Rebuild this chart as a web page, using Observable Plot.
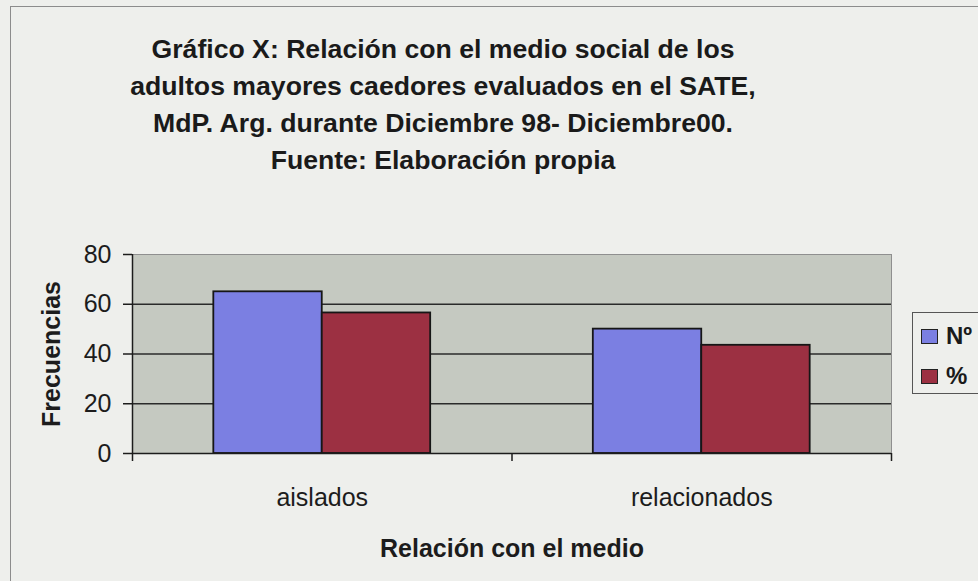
<!DOCTYPE html>
<html>
<head>
<meta charset="utf-8">
<script src="https://cdn.jsdelivr.net/npm/d3@7"></script>
<script src="https://cdn.jsdelivr.net/npm/@observablehq/plot@0.6"></script>
<style>
  html, body { margin: 0; padding: 0; background: #eeefec; }
  #wrap { position: relative; width: 978px; height: 581px; overflow: hidden; background: #eeefec;
          font-family: "Liberation Sans", Arial, sans-serif; color: #1a1a1a; }
  #border { position: absolute; left: 10px; top: 6px; width: 1000px; height: 600px; border: 1px solid #8c8c8c; }
  #title { position: absolute; left: 0; top: 31px; width: 886px; text-align: center; font-weight: bold;
           font-size: 25px; line-height: 37px; transform: scaleX(1.065); transform-origin: 443px 0; }
  #chart { position: absolute; left: 0; top: 200px; }
  #legend { position: absolute; left: 912px; top: 312px; width: 90px; height: 80px; border: 1px solid #555; }
  .item { position: absolute; left: 8px; height: 24px; display: flex; align-items: center;
          font-weight: bold; font-size: 24px; }
  .sw { width: 15px; height: 13px; border: 1.5px solid #222; margin-right: 8px; }
</style>
</head>
<body>
<div id="wrap">
  <div id="border"></div>
  <div id="title">Gráfico X: Relación con el medio social de los<br>adultos mayores caedores evaluados en el SATE,<br>MdP. Arg. durante Diciembre 98- Diciembre00.<br>Fuente: Elaboración propia</div>
  <div id="chart"></div>
  <div id="legend"></div>
</div>
<script>
// ---- data ----
const categories = ["aislados", "relacionados"];
const series = ["Nº", "%"];
const valuesN = [65, 50];
const valuesPct = [56.5, 43.5];
const yTicks = [0, 20, 40, 60, 80];
const colors = ["#7b7fe2", "#9c3042"];
const xLabel = "Relación con el medio";
const yLabel = "Frecuencias";

// Excel-style clustered layout: gap width 150%
const gapWidth = 1.5;
const groupStep = series.length + gapWidth;
const seriesValues = [valuesN, valuesPct];

const rows = [];
categories.forEach((cat, i) => {
  series.forEach((s, j) => {
    const x1 = i * groupStep + gapWidth / 2 + j;
    rows.push({cat, series: s, value: seriesValues[j][i], x1, x2: x1 + 1});
  });
});

const dark = "#1c1c1c";
const plotBg = "#c5c9c1";

const chart = Plot.plot({
  width: 978,
  height: 381,
  marginLeft: 132,
  marginRight: 87,
  marginTop: 54,
  marginBottom: 128,
  style: {background: "transparent", fontFamily: "'Liberation Sans', Arial, sans-serif", color: dark, overflow: "visible"},
  x: {domain: [0, categories.length * groupStep], axis: null},
  y: {domain: [0, 80], axis: null},
  color: {domain: series, range: colors},
  marks: [
    Plot.frame({fill: plotBg, stroke: "#8f8f8f"}),
    Plot.ruleY(yTicks.filter(t => t > 0 && t < 80), {stroke: "#2a2a2a", strokeWidth: 1.5}),
    Plot.rectY(rows, {x1: "x1", x2: "x2", y1: 0, y2: "value", fill: "series", stroke: "#161616", strokeWidth: 1.8}),
    Plot.ruleY([0], {stroke: dark, strokeWidth: 1.5}),
    Plot.ruleX([0], {stroke: dark, strokeWidth: 1.5}),
    Plot.axisY(yTicks, {tickSize: 9, tickPadding: 12, fontSize: 25, label: null, strokeWidth: 1.5}),
    Plot.axisX(d3.range(categories.length + 1).map(i => i * groupStep),
      {tickSize: 8, tickFormat: () => "", label: null, strokeWidth: 1.5}),
    Plot.axisX(categories.map((c, i) => i * groupStep + groupStep / 2),
      {tickSize: 0, tickPadding: 35, fontSize: 25, label: null,
       tickFormat: d => categories[Math.floor(d / groupStep)]}),
    Plot.text([yLabel], {frameAnchor: "left", dx: -81, rotate: -90, textAnchor: "middle", lineAnchor: "middle",
      fontSize: 25, fontWeight: "bold", fill: dark}),
    Plot.text([xLabel], {frameAnchor: "bottom", dy: 95, textAnchor: "middle", lineAnchor: "middle",
      fontSize: 25, fontWeight: "bold", fill: dark})
  ]
});
document.getElementById("chart").appendChild(chart);

// legend
const legend = document.getElementById("legend");
series.forEach((s, j) => {
  const item = document.createElement("div");
  item.className = "item";
  item.style.top = (j === 0 ? 11 : 51) + "px";
  const sw = document.createElement("span");
  sw.className = "sw";
  sw.style.background = colors[j];
  item.appendChild(sw);
  item.appendChild(document.createTextNode(s));
  legend.appendChild(item);
});
</script>
</body>
</html>
